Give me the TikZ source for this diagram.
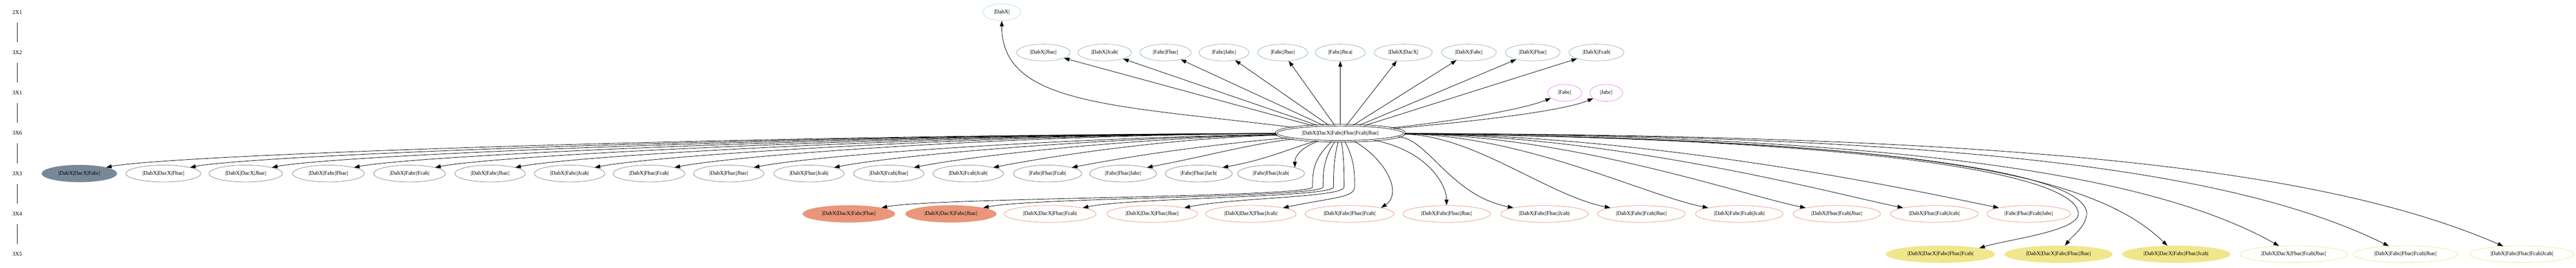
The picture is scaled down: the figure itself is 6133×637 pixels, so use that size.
\documentclass[tikz,border=0pt]{standalone}
\usepackage{fontspec}
\setmainfont{Liberation Serif}
\usetikzlibrary{shapes.geometric,arrows.meta}
\tikzset{every picture/.style={line width=0.75pt}}
\definecolor{gvslate}{HTML}{778899}
\definecolor{gvsalmon}{HTML}{E9967A}
\definecolor{gvkhaki}{HTML}{F0E68C}
\definecolor{gvgreen}{HTML}{8FBC8F}
\definecolor{gvviolet}{HTML}{EE82EE}
\definecolor{gvblue}{HTML}{B0E0E6}
\tikzset{
  state/.style={ellipse, inner xsep=10pt, inner ysep=2pt, minimum height=30pt},
  lbl/.style={inner sep=0pt, minimum height=36pt},
  edge/.style={-{Triangle[length=10pt,width=7pt]}},
}

\begin{document}
\begin{tikzpicture}[x=0.75pt,y=0.75pt,yscale=-1,xscale=1]
\useasboundingbox (0,0) rectangle (6133,637);
\draw (41,29) node [lbl] (l1) {2X1};
\draw (41,125) node [lbl] (l2) {3X2};
\draw (41,221) node [lbl] (l3) {3X1};
\draw (41,317) node [lbl] (l4) {3X6};
\draw (41,413) node [lbl] (l5) {3X3};
\draw (41,509) node [lbl] (l6) {3X4};
\draw (41,605) node [lbl] (l7) {3X5};
\draw (l1) -- (l2);
\draw (l2) -- (l3);
\draw (l3) -- (l4);
\draw (l4) -- (l5);
\draw (l5) -- (l6);
\draw (l6) -- (l7);

\draw (2385,29) node [state,draw=gvblue] (dabx) {|DabX|};

\draw (2484,125) node [state,draw=gvgreen] (r2a) {|DabX|Jbac|};
\draw (2630,125) node [state,draw=gvgreen] (r2b) {|DabX|Jcab|};
\draw (2775,125) node [state,draw=gvgreen] (r2c) {|Fabc|Fbac|};
\draw (2914,125) node [state,draw=gvgreen] (r2d) {|Fabc|Jabc|};
\draw (3054,125) node [state,draw=gvgreen] (r2e) {|Fabc|Jbac|};
\draw (3191,125) node [state,draw=gvgreen] (r2f) {|Fabc|Jbca|};
\draw (3341,125) node [state,draw=gvgreen] (r2g) {|DabX|DacX|};
\draw (3497,125) node [state,draw=gvgreen] (r2h) {|DabX|Fabc|};
\draw (3649,125) node [state,draw=gvgreen] (r2i) {|DabX|Fbac|};
\draw (3801,125) node [state,draw=gvgreen] (r2j) {|DabX|Fcab|};

\draw (3725,221) node [state,draw=gvviolet] (r3a) {|Fabc|};
\draw (3824,221) node [state,draw=gvviolet] (r3b) {|Jabc|};

\draw (3191,317) node [state,draw,double,double distance=2.25pt,inner xsep=12.5pt,minimum height=29pt] (hub) {|DabX|DacX|Fabc|Fbac|Fcab|Jbac|};

\draw (189,413) node [state,draw=gvslate,fill=gvslate] (r5a) {|DabX|DacX|Fabc|};
\draw (389,413) node [state,draw=gvslate] (r5b) {|DabX|DacX|Fbac|};
\draw (585,413) node [state,draw=gvslate] (r5c) {|DabX|DacX|Jbac|};
\draw (782,413) node [state,draw=gvslate] (r5d) {|DabX|Fabc|Fbac|};
\draw (975,413) node [state,draw=gvslate] (r5e) {|DabX|Fabc|Fcab|};
\draw (1167,413) node [state,draw=gvslate] (r5f) {|DabX|Fabc|Jbac|};
\draw (1356,413) node [state,draw=gvslate] (r5g) {|DabX|Fabc|Jcab|};
\draw (1545,413) node [state,draw=gvslate] (r5h) {|DabX|Fbac|Fcab|};
\draw (1735,413) node [state,draw=gvslate] (r5i) {|DabX|Fbac|Jbac|};
\draw (1926,413) node [state,draw=gvslate] (r5j) {|DabX|Fbac|Jcab|};
\draw (2116,413) node [state,draw=gvslate] (r5k) {|DabX|Fcab|Jbac|};
\draw (2305,413) node [state,draw=gvslate] (r5l) {|DabX|Fcab|Jcab|};
\draw (2494,413) node [state,draw=gvslate] (r5m) {|Fabc|Fbac|Fcab|};
\draw (2674,413) node [state,draw=gvslate] (r5n) {|Fabc|Fbac|Jabc|};
\draw (2854,413) node [state,draw=gvslate] (r5o) {|Fabc|Fbac|Jacb|};
\draw (3026,413) node [state,draw=gvslate] (r5p) {|Fabc|Fbac|Jcab|};

\draw (2021,509) node [state,draw=gvsalmon,fill=gvsalmon] (r6a) {|DabX|DacX|Fabc|Fbac|};
\draw (2264,509) node [state,draw=gvsalmon,fill=gvsalmon] (r6b) {|DabX|DacX|Fabc|Jbac|};
\draw (2500,509) node [state,draw=gvsalmon] (r6c) {|DabX|DacX|Fbac|Fcab|};
\draw (2743,509) node [state,draw=gvsalmon] (r6d) {|DabX|DacX|Fbac|Jbac|};
\draw (2978,509) node [state,draw=gvsalmon] (r6e) {|DabX|DacX|Fbac|Jcab|};
\draw (3213,509) node [state,draw=gvsalmon] (r6f) {|DabX|Fabc|Fbac|Fcab|};
\draw (3444,509) node [state,draw=gvsalmon] (r6g) {|DabX|Fabc|Fbac|Jbac|};
\draw (3677,509) node [state,draw=gvsalmon] (r6h) {|DabX|Fabc|Fbac|Jcab|};
\draw (3908,509) node [state,draw=gvsalmon] (r6i) {|DabX|Fabc|Fcab|Jbac|};
\draw (4141,509) node [state,draw=gvsalmon] (r6j) {|DabX|Fabc|Fcab|Jcab|};
\draw (4373,509) node [state,draw=gvsalmon] (r6k) {|DabX|Fbac|Fcab|Jbac|};
\draw (4605,509) node [state,draw=gvsalmon] (r6l) {|DabX|Fbac|Fcab|Jcab|};
\draw (4830,509) node [state,draw=gvsalmon] (r6m) {|Fabc|Fbac|Fcab|Jabc|};

\draw (4620,605) node [state,draw=gvkhaki,fill=gvkhaki] (r7a) {|DabX|DacX|Fabc|Fbac|Fcab|};
\draw (4901,605) node [state,draw=gvkhaki,fill=gvkhaki] (r7b) {|DabX|DacX|Fabc|Fbac|Jbac|};
\draw (5181,605) node [state,draw=gvkhaki,fill=gvkhaki] (r7c) {|DabX|DacX|Fabc|Fbac|Jcab|};
\draw (5461,605) node [state,draw=gvkhaki] (r7d) {|DabX|DacX|Fbac|Fcab|Jbac|};
\draw (5727,605) node [state,draw=gvkhaki] (r7e) {|DabX|Fabc|Fbac|Fcab|Jbac|};
\draw (6004,605) node [state,draw=gvkhaki] (r7f) {|DabX|Fabc|Fbac|Fcab|Jcab|};

\draw [edge] (hub) .. controls (2650,250) and (2385,250) .. (dabx);
\draw [edge] (hub) -- (r2a);
\draw [edge] (hub) -- (r2b);
\draw [edge] (hub) -- (r2c);
\draw [edge] (hub) -- (r2d);
\draw [edge] (hub) -- (r2e);
\draw [edge] (hub) -- (r2f);
\draw [edge] (hub) -- (r2g);
\draw [edge] (hub) -- (r2h);
\draw [edge] (hub) -- (r2i);
\draw [edge] (hub) -- (r2j);
\draw [edge] (hub) .. controls (3450,290) and (3620,262) .. (r3a);
\draw [edge] (hub) .. controls (3500,290) and (3720,265) .. (r3b);

\draw [edge] (hub) .. controls (1721,322) and (401,369) .. (r5a.north east);
\draw [edge] (hub) .. controls (1821,322) and (601,369) .. (r5b.north east);
\draw [edge] (hub) .. controls (1919,322) and (797,369) .. (r5c.north east);
\draw [edge] (hub) .. controls (2018,322) and (994,369) .. (r5d.north east);
\draw [edge] (hub) .. controls (2114,322) and (1187,369) .. (r5e.north east);
\draw [edge] (hub) .. controls (2210,322) and (1379,369) .. (r5f.north east);
\draw [edge] (hub) .. controls (2305,322) and (1568,369) .. (r5g.north east);
\draw [edge] (hub) .. controls (2399,322) and (1757,369) .. (r5h.north east);
\draw [edge] (hub) .. controls (2494,330) and (1947,369) .. (r5i.north east);
\draw [edge] (hub) .. controls (2590,330) and (2138,369) .. (r5j.north east);
\draw [edge] (hub) .. controls (2685,330) and (2328,369) .. (r5k.north east);
\draw [edge] (hub) .. controls (2779,330) and (2517,369) .. (r5l.north east);
\draw [edge] (hub) .. controls (2874,345) and (2706,369) .. (r5m.north east);
\draw [edge] (hub) .. controls (2964,345) and (2886,369) .. (r5n.north east);
\draw [edge] (hub) .. controls (3054,360) and (3012,380) .. (r5o.north east);
\draw [edge] (hub) .. controls (3100,350) and (3083,370) .. (r5p.north east);

\draw [edge] (hub) .. controls (3125,380) and (3125,410) .. (3125,445) .. controls (3125,470) and (2219,470) .. (r6a.north east);
\draw [edge] (hub) .. controls (3150,380) and (3150,410) .. (3150,445) .. controls (3150,470) and (2462,470) .. (r6b.north east);
\draw [edge] (hub) .. controls (3175,380) and (3175,410) .. (3175,445) .. controls (3175,470) and (2696,470) .. (r6c.north east);
\draw [edge] (hub) .. controls (3200,380) and (3200,410) .. (3200,445) .. controls (3200,470) and (2939,470) .. (r6d.north east);
\draw [edge] (hub) .. controls (3225,380) and (3225,410) .. (3225,445) .. controls (3225,470) and (3174,470) .. (r6e.north east);
\draw [edge] (hub) .. controls (3300,380) and (3340,460) .. (r6f.north east);
\draw [edge] (hub) .. controls (3400,360) and (3444,440) .. (r6g);
\draw [edge] (hub) .. controls (3400,330) and (3453,465) .. (r6h.north west);
\draw [edge] (hub) .. controls (3510,322) and (3684,465) .. (r6i.north west);
\draw [edge] (hub) .. controls (3630,322) and (3917,465) .. (r6j.north west);
\draw [edge] (hub) .. controls (3745,322) and (4149,465) .. (r6k.north west);
\draw [edge] (hub) .. controls (3860,322) and (4381,465) .. (r6l.north west);
\draw [edge] (hub) .. controls (3975,322) and (4611,465) .. (r6m.north west);

\draw [edge] (hub) .. controls (4500,330) and (4948,420) .. (4948,509) .. controls (4948,550) and (4780,570) .. (r7a.north east);
\draw [edge] (hub) .. controls (4550,330) and (4970,420) .. (4968,509) .. controls (4966,540) and (4935,560) .. (r7b);
\draw [edge] (hub) .. controls (4600,330) and (4990,420) .. (r7c);
\draw [edge] (hub) .. controls (4600,322) and (5150,430) .. (r7d);
\draw [edge] (hub) .. controls (4700,322) and (5330,410) .. (r7e);
\draw [edge] (hub) .. controls (4800,322) and (5530,400) .. (r7f);
\end{tikzpicture}
\end{document}
